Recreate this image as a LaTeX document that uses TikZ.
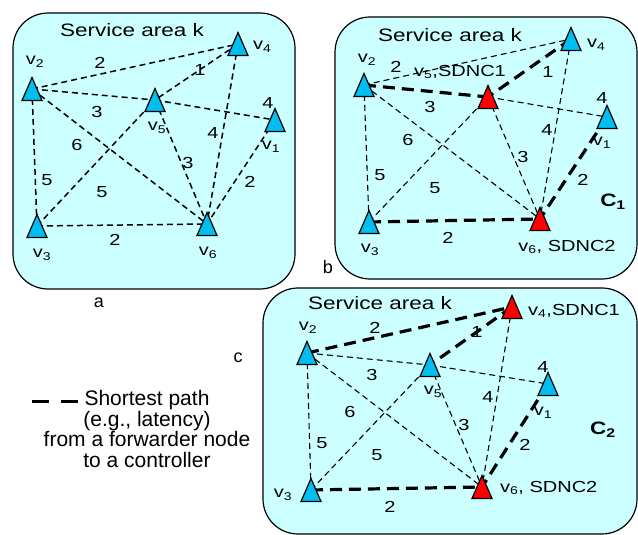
\documentclass[tikz,border=0pt]{standalone}
\usepackage{fontspec}
\setmainfont{Liberation Sans}
\newfontfamily\panelfont[FakeStretch=1.25]{Liberation Sans}
\definecolor{areacyan}{RGB}{204,255,255}
\definecolor{fwdblue}{RGB}{0,191,240}
\tikzset{
  area/.style={draw=black,line width=1.2pt,fill=areacyan,rounded corners=35pt},
  link/.style={line width=1.1pt,dash pattern=on 6pt off 4pt},
  alink/.style={line width=1.5pt,dash pattern=on 6pt off 4pt},
  splink/.style={line width=3.2pt,dash pattern=on 12pt off 7pt},
  wlbl/.style={font=\panelfont\fontsize{16}{18}\selectfont,inner sep=0pt},
  vlbl/.style={font=\panelfont\fontsize{16}{18}\selectfont,inner sep=0pt},
  title/.style={font=\panelfont\fontsize{18}{20}\selectfont,inner sep=0pt},
  cname/.style={font=\panelfont\bfseries\fontsize{18}{20}\selectfont,inner sep=0pt},
  tag/.style={font=\fontsize{18}{20}\selectfont,inner sep=0pt},
  fwd/.pic={\filldraw[fill=fwdblue,line width=1.2pt] (-10,11.5) -- (10,11.5) -- (0,-11.5) -- cycle;},
  ctl/.pic={\filldraw[fill=red,line width=1.2pt] (-10,11.5) -- (10,11.5) -- (0,-11.5) -- cycle;}
}
\begin{document}
\begin{tikzpicture}[x=1pt,y=-1pt]
\useasboundingbox (0,0) rectangle (638,535);

\draw[area] (13,13) rectangle (295,289);
\draw[area] (335,17) rectangle (637,279);
\draw[area] (263,288) rectangle (637,534);

\coordinate (av1) at (275,120);
\coordinate (av2) at (32,89);
\coordinate (av3) at (37,226);
\coordinate (av4) at (238,44);
\coordinate (av5) at (155,100);
\coordinate (av6) at (207,224);
\foreach \p/\q in {v2/v4,v4/v5,v2/v5,v5/v1,v4/v6,v2/v6,v5/v6,v1/v6,v2/v3,v3/v5,v3/v6}
  \draw[alink] (a\p) -- (a\q);
\foreach \v in {1,...,6}
  \pic at (av\v) {fwd};
\node[title] (atitle) at (132,30) {Service area k};
\node[vlbl] (alv1) at (271,147) {v\textsubscript{1}};
\node[vlbl] (alv2) at (35,62) {v\textsubscript{2}};
\node[vlbl] (alv3) at (42,255) {v\textsubscript{3}};
\node[vlbl,anchor=west] (alv4) at (253,47) {v\textsubscript{4}};
\node[vlbl] (alv5) at (157,128) {v\textsubscript{5}};
\node[vlbl] (alv6) at (208,253) {v\textsubscript{6}};
\node[wlbl] (aw24) at (100,63) {2};
\node[wlbl] (aw45) at (200,70) {1};
\node[wlbl] (aw25) at (97,112) {3};
\node[wlbl] (aw51) at (268,103) {4};
\node[wlbl] (aw46) at (213,133) {4};
\node[wlbl] (aw26) at (77,145) {6};
\node[wlbl] (aw56) at (188,163) {3};
\node[wlbl] (aw16) at (250,182) {2};
\node[wlbl] (aw23) at (47,180) {5};
\node[wlbl] (aw35) at (102,192) {5};
\node[wlbl] (aw36) at (115,240) {2};
\node[tag] (atag) at (99,303) {a};

\coordinate (bv1) at (607,117);
\coordinate (bv2) at (364,85);
\coordinate (bv3) at (369,222);
\coordinate (bv4) at (571,39);
\coordinate (bv5) at (488,97);
\coordinate (bv6) at (540,219);
\foreach \p/\q/\s in {v2/v4/link,v4/v5/splink,v2/v5/splink,v5/v1/link,v4/v6/link,v2/v6/link,v5/v6/link,v1/v6/splink,v2/v3/link,v3/v5/link,v3/v6/splink}
  \draw[\s] (b\p) -- (b\q);
\foreach \v in {1,...,4}
  \pic at (bv\v) {fwd};
\pic at (bv5) {ctl};
\pic at (bv6) {ctl};
\node[title] (btitle) at (450,35) {Service area k};
\node[vlbl] (blv1) at (602,143) {v\textsubscript{1}};
\node[vlbl] (blv2) at (367,60) {v\textsubscript{2}};
\node[vlbl] (blv3) at (370,250) {v\textsubscript{3}};
\node[vlbl,anchor=west] (blv4) at (587,45) {v\textsubscript{4}};
\node[vlbl] (blv5) at (460,72) {v\textsubscript{5},SDNC1};
\node[vlbl] (blv6) at (567,247) {v\textsubscript{6}, SDNC2};
\node[cname] (bc) at (613,202) {C\textsubscript{1}};
\node[wlbl] (bw24) at (396,67) {2};
\node[wlbl] (bw45) at (548,72) {1};
\node[wlbl] (bw25) at (430,107) {3};
\node[wlbl] (bw51) at (602,98) {4};
\node[wlbl] (bw46) at (547,130) {4};
\node[wlbl] (bw26) at (408,140) {6};
\node[wlbl] (bw56) at (523,157) {3};
\node[wlbl] (bw16) at (583,180) {2};
\node[wlbl] (bw23) at (380,175) {5};
\node[wlbl] (bw35) at (435,188) {5};
\node[wlbl] (bw36) at (448,238) {2};
\node[tag] (btag) at (328,267) {b};

\coordinate (cv1) at (548,384);
\coordinate (cv2) at (307,353);
\coordinate (cv3) at (311,490);
\coordinate (cv4) at (512,307);
\coordinate (cv5) at (430,365);
\coordinate (cv6) at (482,487);
\foreach \p/\q/\s in {v2/v4/splink,v4/v5/splink,v2/v5/link,v5/v1/link,v4/v6/link,v2/v6/link,v5/v6/link,v1/v6/splink,v2/v3/link,v3/v5/link,v3/v6/splink}
  \draw[\s] (c\p) -- (c\q);
\foreach \v in {1,2,3,5}
  \pic at (cv\v) {fwd};
\pic at (cv4) {ctl};
\pic at (cv6) {ctl};
\node[title] (ctitle) at (380,303) {Service area k};
\node[vlbl] (clv1) at (543,413) {v\textsubscript{1}};
\node[vlbl] (clv2) at (308,328) {v\textsubscript{2}};
\node[vlbl] (clv3) at (283,495) {v\textsubscript{3}};
\node[vlbl,anchor=west] (clv4) at (528,311) {v\textsubscript{4},SDNC1};
\node[vlbl] (clv5) at (433,392) {v\textsubscript{5}};
\node[vlbl,anchor=west] (clv6) at (500,488) {v\textsubscript{6}, SDNC2};
\node[cname] (cc) at (603,430) {C\textsubscript{2}};
\node[wlbl] (cw24) at (375,328) {2};
\node[wlbl] (cw45) at (477,332) {1};
\node[wlbl] (cw25) at (372,375) {3};
\node[wlbl] (cw51) at (543,367) {4};
\node[wlbl] (cw46) at (488,397) {4};
\node[wlbl] (cw26) at (350,412) {6};
\node[wlbl] (cw56) at (464,425) {3};
\node[wlbl] (cw16) at (525,445) {2};
\node[wlbl] (cw23) at (322,443) {5};
\node[wlbl] (cw35) at (377,455) {5};
\node[wlbl] (cw36) at (390,507) {2};
\node[tag] (ctag) at (238,358) {c};

\coordinate (lgs) at (32,401);
\coordinate (lge) at (78,401);
\draw[line width=3pt,dash pattern=on 17pt off 12pt] (lgs) -- (lge);
\node[font=\fontsize{21}{20.5}\selectfont,align=center,inner sep=0pt] (legend) at (147,429)
  {Shortest path\\(e.g., latency)\\from a forwarder node\\to a controller};
\end{tikzpicture}
\end{document}
